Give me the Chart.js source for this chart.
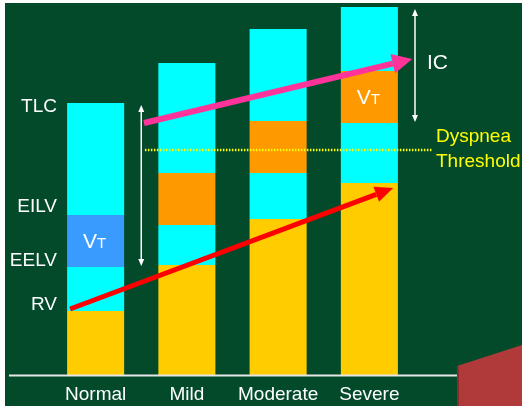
<!DOCTYPE html>
<html>
<head>
<meta charset="utf-8">
<script src="https://cdn.jsdelivr.net/npm/chart.js@4"></script>
<style>
  html, body { margin: 0; padding: 0; background: #ffffff; }
  #wrap { width: 522px; height: 406px; }
</style>
</head>
<body>
<div id="wrap"><canvas id="myChart" width="522" height="406"></canvas></div>
<script>
// categorias y volumenes (litros aprox.)
const severity = ['Normal', 'Mild', 'Moderate', 'Severe'];
const rv  = [1.6, 2.75, 3.9, 4.8];     // volumen residual
const erv = [1.1, 1.0, 1.15, 1.5];     // hasta EELV
const vt  = [1.3, 1.3, 1.3, 1.3];      // volumen corriente
const irv = [2.8, 2.75, 2.3, 1.6];     // hasta TLC

const vtColors = ['#3a9bff', '#ff9900', '#ff9900', '#ff9900'];

// etiquetas del lado izquierdo
const volLabels = ['TLC', 'EILV', 'EELV', 'RV'];
const volLabelValues = [6.7, 4.2, 2.85, 1.75];

// flechas (x en indice de categoria, y en litros)
const pinkArrow = { x: [0.53, 3.47], y: [6.3, 7.9] };
const redArrow = { x: [-0.28, 3.26], y: [1.65, 4.675] };
const dyspneaLevel = 5.625;
const dyspneaRange = [0.54, 3.68];

const GREEN = '#034a2b';

const deco = {
    id: 'deco',
    beforeDraw(chart) {
        const c = chart.ctx;
        c.save();
        c.fillStyle = GREEN;
        c.fillRect(5, 3, chart.width - 5, chart.height - 3);
        c.restore();
    },
    afterDatasetsDraw(chart) {
        const c = chart.ctx;
        const x = chart.scales.x, y = chart.scales.y;
        c.save();

        // linea base
        c.strokeStyle = '#e6e6e6';
        c.lineWidth = 2;
        c.beginPath();
        c.moveTo(9, y.getPixelForValue(0) + 0.5);
        c.lineTo(458, y.getPixelForValue(0) + 0.5);
        c.stroke();

        // umbral de disnea
        c.strokeStyle = '#ffff00';
        c.lineWidth = 2.5;
        c.setLineDash([1.5, 1.5]);
        c.beginPath();
        c.moveTo(x.getPixelForValue(dyspneaRange[0]), y.getPixelForValue(dyspneaLevel));
        c.lineTo(x.getPixelForValue(dyspneaRange[1]), y.getPixelForValue(dyspneaLevel));
        c.stroke();
        c.setLineDash([]);

        // flechas IC (TLC -> EELV)
        [0, 3].forEach(i => {
            const px = x.getPixelForValue(i + 0.5);
            const top = y.getPixelForValue(rv[i] + erv[i] + vt[i] + irv[i]) + 2;
            const bot = y.getPixelForValue(rv[i] + erv[i]) - 1;
            c.strokeStyle = '#ffffff';
            c.fillStyle = '#ffffff';
            c.lineWidth = 1.5;
            c.beginPath();
            c.moveTo(px, top + 4);
            c.lineTo(px, bot - 4);
            c.stroke();
            c.beginPath();
            c.moveTo(px, top); c.lineTo(px - 3, top + 7); c.lineTo(px + 3, top + 7); c.closePath(); c.fill();
            c.beginPath();
            c.moveTo(px, bot); c.lineTo(px - 3, bot - 7); c.lineTo(px + 3, bot - 7); c.closePath(); c.fill();
        });

        function arrow(a, color, width, headLen, headHalf) {
            const x0 = x.getPixelForValue(a.x[0]), y0 = y.getPixelForValue(a.y[0]);
            const x1 = x.getPixelForValue(a.x[1]), y1 = y.getPixelForValue(a.y[1]);
            const ang = Math.atan2(y1 - y0, x1 - x0);
            const bx = x1 - headLen * Math.cos(ang), by = y1 - headLen * Math.sin(ang);
            c.strokeStyle = color;
            c.fillStyle = color;
            c.lineWidth = width;
            c.beginPath();
            c.moveTo(x0, y0);
            c.lineTo(bx, by);
            c.stroke();
            c.beginPath();
            c.moveTo(x1, y1);
            c.lineTo(bx + headHalf * Math.sin(ang), by - headHalf * Math.cos(ang));
            c.lineTo(bx - headHalf * Math.sin(ang), by + headHalf * Math.cos(ang));
            c.closePath();
            c.fill();
        }
        arrow(pinkArrow, '#ff3399', 6, 20, 10);
        arrow(redArrow, '#ff0000', 5, 18, 8);

        // VT en los segmentos
        const meta = chart.getDatasetMeta(2);
        [0, 3].forEach(i => {
            const el = meta.data[i];
            const cy = (el.y + el.base) / 2 + 7;
            c.fillStyle = '#ffffff';
            c.textBaseline = 'alphabetic';
            c.font = '21px "Liberation Sans", Arial, sans-serif';
            const wV = c.measureText('V').width;
            c.font = '15px "Liberation Sans", Arial, sans-serif';
            const wT = c.measureText('T').width;
            const sx = el.x - (wV + wT) / 2 - 1;
            c.font = '21px "Liberation Sans", Arial, sans-serif';
            c.textAlign = 'left';
            c.fillText('V', sx, cy);
            c.font = '15px "Liberation Sans", Arial, sans-serif';
            c.fillText('T', sx + wV, cy);
        });

        // etiquetas izquierda
        c.font = '19px "Liberation Sans", Arial, sans-serif';
        c.fillStyle = '#ffffff';
        c.textAlign = 'right';
        c.textBaseline = 'middle';
        volLabels.forEach((t, i) => c.fillText(t, 57, y.getPixelForValue(volLabelValues[i])));

        // IC y umbral
        c.textAlign = 'left';
        c.font = '21px "Liberation Sans", Arial, sans-serif';
        c.fillText('IC', 427, 63);
        c.fillStyle = '#ffff00';
        c.font = '19px "Liberation Sans", Arial, sans-serif';
        c.fillText('Dyspnea', 436, 137);
        c.fillText('Threshold', 436, 162);

        // esquina roja
        c.fillStyle = '#b03a3a';
        c.beginPath();
        c.moveTo(457, 366); c.lineTo(522, 345); c.lineTo(522, 406); c.lineTo(457, 406);
        c.closePath();
        c.fill();
        c.fillStyle = '#8e2a2a';
        c.fillRect(457, 366, 2, 40);
        c.restore();
    }
};

const ctx = document.getElementById('myChart').getContext('2d');
const makeSet = (label, data, color) => ({
    label: label,
    data: data,
    backgroundColor: color,
    borderWidth: 0,
    barPercentage: 0.625,
    categoryPercentage: 1,
});

new Chart(ctx, {
    type: 'bar',
    data: {
        labels: severity,
        datasets: [
            makeSet('RV', rv, '#ffcc00'),
            makeSet('ERV', erv, '#00ffff'),
            makeSet('VT', vt, vtColors),
            makeSet('IRV', irv, '#00ffff'),
        ],
    },
    options: {
        responsive: false,
        animation: false,
        devicePixelRatio: 1,
        layout: { padding: { left: 50, right: 107, top: 3, bottom: 0 } },
        plugins: { legend: { display: false }, tooltip: { enabled: false } },
        scales: {
            x: {
                stacked: true,
                grid: { display: false, drawTicks: false },
                border: { display: false },
                ticks: {
                    color: '#ffffff',
                    padding: 8,
                    font: { family: '"Liberation Sans", Arial, sans-serif', size: 19 },
                },
                afterFit: (s) => { s.height = 31; },
            },
            y: {
                stacked: true,
                display: false,
                min: 0,
                max: 9.3,
            },
        },
    },
    plugins: [deco],
});
</script>
</body>
</html>
